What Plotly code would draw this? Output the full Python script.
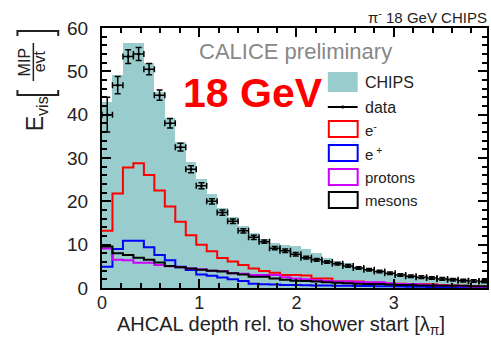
import plotly.graph_objects as go

# ---------------- data ----------------
bin_width = 0.1077  # lambda_pi per bin
chips = [43.0, 49.2, 56.6, 56.6, 52.0, 45.3, 39.2, 33.8, 29.0, 25.2, 21.6, 18.5, 16.5, 14.2,
         12.6, 11.4, 10.3, 9.9, 9.6, 9.1, 8.0, 6.9, 6.2, 5.7, 4.9, 4.2, 3.7, 3.4, 3.0, 2.8,
         2.6, 2.4, 2.2, 2.2, 2.1, 1.5, 1.3]
data = [40.0, 46.8, 53.4, 54.0, 50.5, 44.5, 38.0, 32.5, 27.4, 23.6, 20.0, 17.4, 15.4, 13.2,
        11.7, 10.7, 9.2, 8.6, 7.8, 7.0, 6.5, 6.0, 5.6, 5.1, 4.6, 4.2, 3.8, 3.4, 3.0, 2.7,
        2.5, 2.3, 2.1, 1.9, 1.7, 1.6, 1.5]
data_err = [4.0, 2.0, 1.6, 1.5, 1.3, 1.2, 1.1, 0.9, 0.8, 0.7, 0.6, 0.6, 0.5, 0.5, 0.5, 0.4,
            0.4, 0.4, 0.4, 0.3, 0.3, 0.3, 0.3, 0.3, 0.3, 0.3, 0.3, 0.3, 0.3, 0.3, 0.3, 0.3,
            0.3, 0.3, 0.3, 0.3, 0.3]
e_minus = [13.2, 21.8, 27.8, 28.8, 26.1, 22.5, 18.8, 15.3, 12.2, 10.0, 8.5, 6.9, 6.1, 5.3,
           4.5, 3.9, 3.5, 3.0, 3.0, 2.9, 2.2, 2.2, 1.5, 1.5, 1.5, 1.2, 1.2, 1.0, 1.0, 0.9,
           0.85, 0.85, 0.7, 0.6, 0.5, 0.4, 0.3]
e_plus = [4.9, 9.0, 10.9, 10.9, 9.4, 7.6, 6.4, 4.9, 4.15, 3.1, 2.8, 2.4, 2.0, 1.6, 1.0, 0.85,
          0.8, 0.7, 0.7, 0.65, 0.6, 0.55, 0.5, 0.5, 0.45, 0.45, 0.4, 0.4, 0.35, 0.3, 0.3,
          0.25, 0.25, 0.2, 0.2, 0.15, 0.15]
protons = [9.1, 6.5, 6.4, 5.8, 5.8, 5.3, 5.0, 4.8, 4.5, 4.3, 4.0, 3.9, 3.4, 3.3, 3.0, 3.0,
           3.0, 2.5, 2.2, 2.0, 1.8, 1.6, 1.5, 1.5, 1.4, 1.3, 1.3, 1.1, 0.9, 0.9, 0.8, 0.7,
           0.6, 0.5, 0.4, 0.3, 0.3]
mesons = [9.6, 8.0, 7.6, 7.0, 6.5, 5.9, 5.1, 4.8, 4.5, 4.2, 4.0, 3.8, 3.4, 3.1, 2.6, 2.6,
          2.2, 1.9, 1.7, 1.6, 1.5, 1.3, 1.2, 1.1, 1.0, 0.9, 0.9, 0.8, 0.7, 0.7, 0.6, 0.6,
          0.5, 0.5, 0.5, 0.4, 0.4]
x_ticks = [0, 1, 2, 3]
y_ticks = [0, 10, 20, 30, 40, 50, 60]

n = len(chips)
edges = [k * bin_width for k in range(n + 1)]
centers = [(k + 0.5) * bin_width for k in range(n)]

TEAL = "#99cccc"
MAG = "#cc00ff"

# ---------------- layout geometry (pixels) ----------------
W, H = 491, 338
L, R, T, B = 102, 489, 28, 288


def px(x):
    return (x - L) / (R - L)


def py(y):
    return (B - y) / (B - T)


fig = go.Figure()
fig.add_trace(go.Bar(x=centers, y=chips, width=bin_width, marker=dict(color=TEAL, line=dict(width=0)),
                     showlegend=False, hoverinfo="skip"))


def step(vals, color):
    return go.Scatter(x=edges, y=vals + [vals[-1]], mode="lines", line=dict(color=color, width=2, shape="hv"),
                      showlegend=False, hoverinfo="skip")


fig.add_trace(step(e_minus, "#ff0000"))
fig.add_trace(step(e_plus, "#0000ff"))
fig.add_trace(step(protons, MAG))
fig.add_trace(step(mesons, "#000000"))
fig.add_trace(go.Scatter(
    x=centers, y=data, mode="markers",
    marker=dict(color="black", size=3),
    error_y=dict(type="data", array=data_err, color="black", thickness=1.5, width=3),
    error_x=dict(type="constant", value=bin_width / 2, color="black", thickness=1.5, width=3),
    showlegend=False, hoverinfo="skip"))

fig.update_layout(
    width=W, height=H,
    margin=dict(l=L, r=W - R, t=T, b=H - B, pad=0),
    paper_bgcolor="white", plot_bgcolor="white",
    bargap=0, showlegend=False,
    font=dict(family="Liberation Sans, Arial, sans-serif", color="#222"),
)
fig.update_xaxes(range=[0, 3.96], tickvals=x_ticks, ticktext=[str(v) for v in x_ticks],
                 showline=True, linecolor="black", linewidth=2, mirror="allticks",
                 ticks="inside", ticklen=9, tickwidth=2, tickcolor="black",
                 minor=dict(dtick=0.2, ticklen=5, tickwidth=1.5, tickcolor="black", ticks="inside"),
                 showgrid=False, zeroline=False, tickfont=dict(size=18, color="#222"),
                 ticklabelstandoff=-3)
fig.update_yaxes(range=[0, 60], tickvals=y_ticks, ticktext=[str(v) for v in y_ticks],
                 showline=True, linecolor="black", linewidth=2, mirror="allticks",
                 ticks="inside", ticklen=9, tickwidth=2, tickcolor="black",
                 minor=dict(dtick=2, ticklen=5, tickwidth=1.5, tickcolor="black", ticks="inside"),
                 showgrid=False, zeroline=False, tickfont=dict(size=19, color="#222"),
                 ticklabelstandoff=8)

ann = []
shapes = []


def text(x, y, s, size, color="#222", xanchor="center", angle=0, bold=False):
    ann.append(dict(x=px(x), y=py(y), xref="paper", yref="paper", text=("<b>%s</b>" % s) if bold else s,
                    showarrow=False, xanchor=xanchor, yanchor="middle", textangle=angle,
                    font=dict(size=size, color=color, family="Liberation Sans, Arial, sans-serif")))


text(491, 17, "π<sup>-</sup> 18 GeV CHIPS", 15, "#222", xanchor="right")
text(197, 51, "CALICE preliminary", 22, "#888888", xanchor="left")
text(181, 93, "18 GeV", 41, "#ff0000", xanchor="left", bold=True)
text(115, 325, "AHCAL depth rel. to shower start [λ<sub>π</sub>]", 20, "#222", xanchor="left")

# y title: E_vis [MIP / evt]
text(36, 114, "E<sub>vis</sub>", 23, "#222", angle=-90)
text(25, 62, "MIP", 16, "#222", angle=-90)
text(39, 61, "evt", 16, "#222", angle=-90)
shapes.append(dict(type="line", xref="paper", yref="paper", x0=px(33), x1=px(33), y0=py(43), y1=py(81),
                   line=dict(color="#222", width=1.5)))
shapes.append(dict(type="path", xref="paper", yref="paper",
                   path="M %f %f L %f %f L %f %f L %f %f" % (px(17), py(36), px(17), py(31), px(58), py(31), px(58), py(36)),
                   line=dict(color="#222", width=2)))
shapes.append(dict(type="path", xref="paper", yref="paper",
                   path="M %f %f L %f %f L %f %f L %f %f" % (px(17), py(90), px(17), py(95), px(58), py(95), px(58), py(90)),
                   line=dict(color="#222", width=2)))

# legend
lx0, lx1, tx = 329, 359, 364
shapes.append(dict(type="rect", xref="paper", yref="paper", x0=px(lx0), x1=px(lx1), y0=py(92), y1=py(72),
                   fillcolor=TEAL, line=dict(width=0)))
text(tx, 82, "CHIPS", 16, "#222", xanchor="left")
shapes.append(dict(type="line", xref="paper", yref="paper", x0=px(lx0), x1=px(lx1), y0=py(107), y1=py(107),
                   line=dict(color="black", width=2)))
shapes.append(dict(type="line", xref="paper", yref="paper", x0=px(344), x1=px(344), y0=py(105.5), y1=py(108.5),
                   line=dict(color="black", width=2)))
text(tx, 107, "data", 16, "#222", xanchor="left")
for yc, col, lab in [(129, "#ff0000", "e<sup>-</sup>"), (153, "#0000ff", "e<sup> +</sup>"),
                     (177, MAG, "protons"), (200, "#000000", "mesons")]:
    shapes.append(dict(type="rect", xref="paper", yref="paper", x0=px(lx0 + 1), x1=px(lx1), y0=py(yc + 8), y1=py(yc - 8),
                       fillcolor="rgba(0,0,0,0)", line=dict(color=col, width=2)))
    text(tx, yc, lab, 15, "#222", xanchor="left")

fig.update_layout(annotations=ann, shapes=shapes)
fig.write_html("out.html")
